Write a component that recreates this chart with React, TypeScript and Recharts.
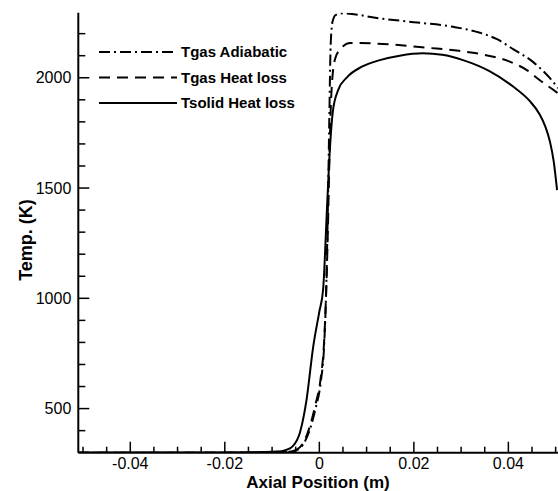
import * as React from "react";
import { Label, Line, LineChart, XAxis, YAxis } from "recharts";

// Tsolid Heat loss (solid line)
const solidX = [-0.051, -0.03, -0.015, -0.009, -0.007, -0.0056, -0.0041, -0.0027, -0.0013, 0, 0.0008, 0.0017, 0.0023, 0.0029, 0.004, 0.0059, 0.009, 0.0128, 0.017, 0.0219, 0.026, 0.0304, 0.036, 0.041, 0.0445, 0.0466, 0.0478, 0.0488, 0.0496, 0.0503];
const solidT = [301, 301, 302, 305, 313, 330, 392, 541, 780, 940, 1040, 1446, 1700, 1854, 1945, 2003, 2050, 2080, 2100, 2111, 2104, 2080, 2030, 1960, 1895, 1835, 1780, 1710, 1620, 1491];

// Tgas Heat loss (dashed line)
const lossX = [-0.051, -0.02, -0.01, -0.007, -0.005, -0.0035, -0.002, -0.0008, 0.0003, 0.001, 0.0014, 0.0018, 0.0021, 0.0024, 0.0028, 0.0034, 0.0045, 0.0065, 0.012, 0.0234, 0.0295, 0.034, 0.0404, 0.0439, 0.0466, 0.0492, 0.0505];
const lossT = [300, 300, 301, 303, 312, 340, 420, 520, 640, 800, 1000, 1300, 1600, 1850, 2010, 2090, 2130, 2158, 2155, 2135, 2122, 2108, 2072, 2035, 1990, 1950, 1930];

// Tgas Adiabatic (dash-dot line)
const adiaX = [-0.051, -0.02, -0.01, -0.007, -0.005, -0.0035, -0.002, -0.0008, 0.0003, 0.001, 0.0014, 0.0018, 0.0021, 0.0024, 0.0028, 0.0035, 0.0051, 0.0128, 0.02, 0.0283, 0.034, 0.0376, 0.041, 0.0452, 0.0488, 0.0505];
const adiaT = [300, 300, 301, 303, 310, 335, 405, 500, 620, 780, 1000, 1400, 1800, 2150, 2255, 2285, 2292, 2269, 2252, 2231, 2204, 2175, 2130, 2072, 1998, 1953];

const xTicks = [-0.05, -0.045, -0.04, -0.035, -0.03, -0.025, -0.02, -0.015, -0.01, -0.005, 0, 0.005, 0.01, 0.015, 0.02, 0.025, 0.03, 0.035, 0.04, 0.045, 0.05];
const xLabels = [-0.04, -0.02, 0, 0.02, 0.04];
const yTicks = [400, 500, 600, 700, 800, 900, 1000, 1100, 1200, 1300, 1400, 1500, 1600, 1700, 1800, 1900, 2000, 2100, 2200];
const yLabels = [500, 1000, 1500, 2000];

const legendItems = [
  { name: "Tgas Adiabatic", dash: "11 4 2 4" },
  { name: "Tgas Heat loss", dash: "11 7" },
  { name: "Tsolid Heat loss", dash: undefined },
];

const toRows = (xs: number[], ts: number[]) => xs.map((x, i) => ({ x, t: ts[i] }));
const isIn = (v: number, list: number[]) => list.some((l) => Math.abs(l - v) < 1e-9);

const FONT = "'Liberation Sans', Arial, sans-serif";

function XTick(props: any) {
  const { x, y, payload } = props;
  const major = isIn(payload.value, xLabels);
  return (
    <g>
      <line x1={x} x2={x} y1={y} y2={y - (major ? 11 : 6)} stroke="#000" strokeWidth={1.5} />
      {major && (
        <text x={x} y={y + 5} dy="0.71em" textAnchor="middle" fontSize={16} fontFamily={FONT} fill="#000">
          {Math.abs(payload.value) < 1e-9 ? "0" : String(payload.value)}
        </text>
      )}
    </g>
  );
}

function YTick(props: any) {
  const { x, y, payload } = props;
  const major = isIn(payload.value, yLabels);
  return (
    <g>
      <line x1={x} x2={x + (major ? 11 : 7)} y1={y} y2={y} stroke="#000" strokeWidth={1.5} />
      {major && (
        <text x={x - 7} y={y} dy="0.35em" textAnchor="end" fontSize={16} fontFamily={FONT} fill="#000">
          {payload.value}
        </text>
      )}
    </g>
  );
}

function ChartLegend() {
  return (
    <svg width={260} height={80} style={{ position: "absolute", left: 90, top: 36 }}>
      {legendItems.map((it, i) => {
        const y = 16 + i * 25.5;
        return (
          <g key={it.name}>
            <line x1={9} x2={87} y1={y} y2={y} stroke="#000" strokeWidth={2} strokeDasharray={it.dash} />
            <text x={91} y={y} dy="0.35em" fontSize={15} fontWeight="bold" fontFamily={FONT} fill="#000">
              {it.name}
            </text>
          </g>
        );
      })}
    </svg>
  );
}

export default function App() {
  return (
    <div style={{ position: "fixed", left: 0, top: 0, width: 558, height: 491, background: "#fff", overflow: "hidden" }}>
      <LineChart width={558} height={491} margin={{ top: 12.7, right: 0, bottom: 0, left: 0 }}>
        <XAxis
          type="number"
          dataKey="x"
          domain={[-0.051, 0.0505]}
          allowDataOverflow
          ticks={xTicks}
          interval={0}
          height={38.3}
          tickSize={0}
          tickMargin={0}
          tick={<XTick />}
          axisLine={{ stroke: "#000", strokeWidth: 2 }}
        >
          <Label
            content={() => (
              <text x={318} y={488} textAnchor="middle" fontSize={17} fontWeight="bold" fontFamily={FONT} fill="#000">
                Axial Position (m)
              </text>
            )}
          />
        </XAxis>
        <YAxis
          type="number"
          dataKey="t"
          domain={[300, 2295]}
          allowDataOverflow
          ticks={yTicks}
          interval={0}
          width={78.3}
          tickSize={0}
          tickMargin={0}
          tick={<YTick />}
          axisLine={{ stroke: "#000", strokeWidth: 2 }}
        >
          <Label
            content={() => (
              <text
                x={32}
                y={240}
                textAnchor="middle"
                fontSize={18}
                fontWeight="bold"
                fontFamily={FONT}
                fill="#000"
                transform="rotate(-90 32 240)"
              >
                Temp. (K)
              </text>
            )}
          />
        </YAxis>
        <Line data={toRows(adiaX, adiaT)} dataKey="t" type="monotone" stroke="#000" strokeWidth={2} strokeDasharray="11 4 2 4" dot={false} isAnimationActive={false} />
        <Line data={toRows(lossX, lossT)} dataKey="t" type="monotone" stroke="#000" strokeWidth={2} strokeDasharray="11 7" dot={false} isAnimationActive={false} />
        <Line data={toRows(solidX, solidT)} dataKey="t" type="monotone" stroke="#000" strokeWidth={2} dot={false} isAnimationActive={false} />
      </LineChart>
      <ChartLegend />
    </div>
  );
}
